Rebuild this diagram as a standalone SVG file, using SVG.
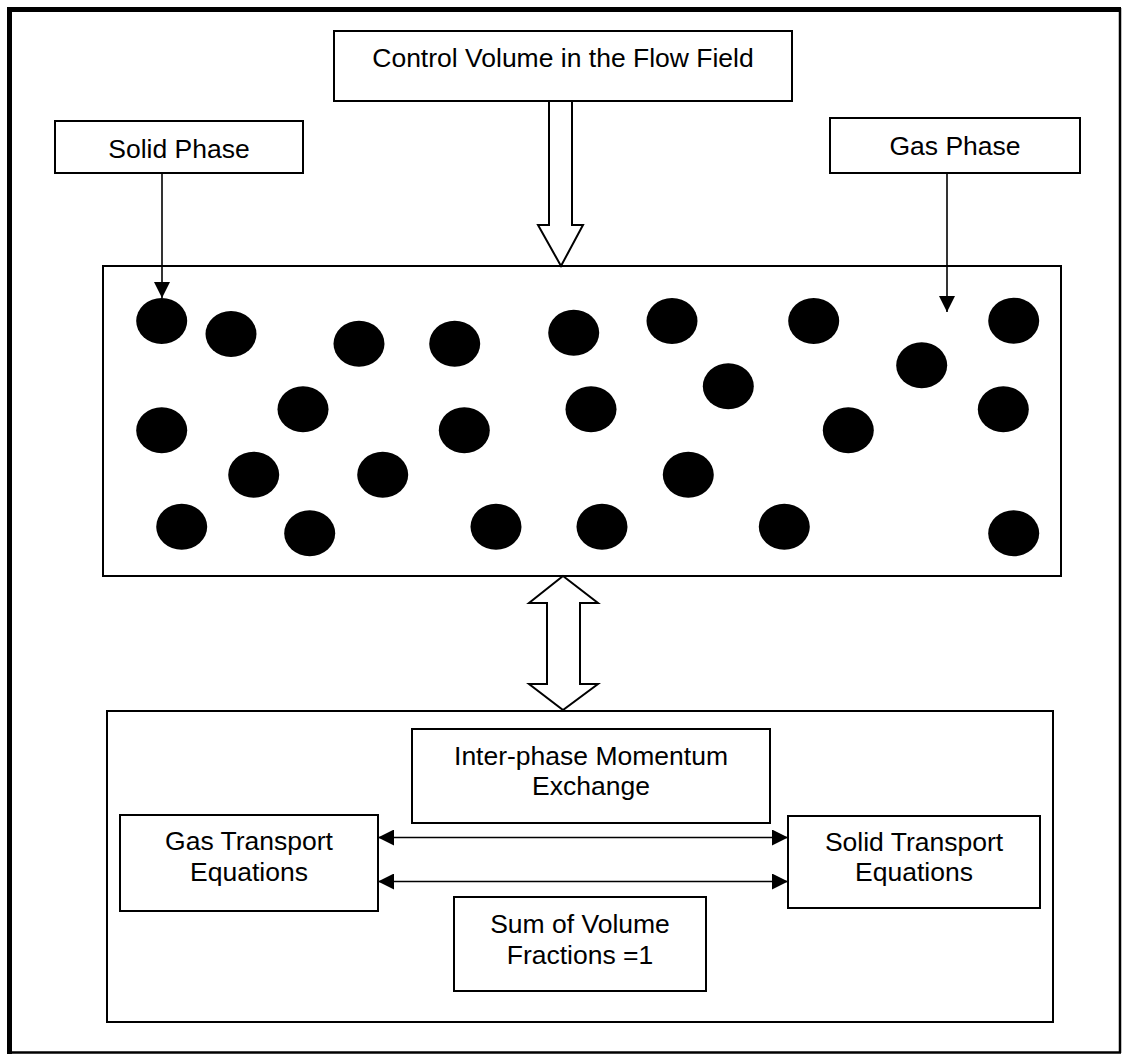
<svg xmlns="http://www.w3.org/2000/svg" width="1135" height="1055" viewBox="0 0 1135 1055">
<style>
.box{fill:#fff;stroke:#000;stroke-width:2}
.lbl{font-family:"Liberation Sans",Arial,sans-serif;font-size:26.5px;fill:#000;text-anchor:middle}
.ln{stroke:#000;stroke-width:1.6;fill:none}
.hollow{fill:#fff;stroke:#000;stroke-width:2;stroke-linejoin:miter}
.p{fill:#000}
</style>
<defs>
<marker id="ah" viewBox="0 0 16 16" refX="16" refY="8" markerWidth="16" markerHeight="16" markerUnits="userSpaceOnUse" orient="auto-start-reverse">
<path d="M0,0 L16,8 L0,16 Z" fill="#000"/>
</marker>
</defs>
<rect x="0" y="0" width="1135" height="1055" fill="#fff"/>
<g id="frame">
<line x1="1120" y1="8" x2="1120" y2="1053" stroke="#000" stroke-width="2.5"/>
<line x1="7" y1="1052.5" x2="1121" y2="1052.5" stroke="#000" stroke-width="2.5"/>
<line x1="9.5" y1="7" x2="9.5" y2="1054" stroke="#000" stroke-width="5"/>
<line x1="7" y1="9.5" x2="1121" y2="9.5" stroke="#000" stroke-width="5"/>
</g>
<g id="connectors">
<polygon class="hollow" points="549,101 572,101 572,225 583,225 561,266 538,225 549,225"/>
<polygon class="hollow" points="563,576 598,603 580,603 580,684 598,684 563,710 529,684 547,684 547,603 529,603"/>
<line class="ln" x1="162" y1="173" x2="162" y2="298" marker-end="url(#ah)"/>
<line class="ln" x1="947" y1="173" x2="947" y2="312" marker-end="url(#ah)"/>
<line class="ln" x1="378" y1="837.5" x2="788" y2="837.5" marker-start="url(#ah)" marker-end="url(#ah)"/>
<line class="ln" x1="378" y1="881.5" x2="788" y2="881.5" marker-start="url(#ah)" marker-end="url(#ah)"/>
</g>
<g id="control-volume">
<rect class="box" x="334" y="31" width="458" height="70"/>
<text class="lbl" x="563" y="67">Control Volume in the Flow Field</text>
</g>
<g id="solid-phase">
<rect class="box" x="55" y="121" width="248" height="52"/>
<text class="lbl" x="179" y="158">Solid Phase</text>
</g>
<g id="gas-phase">
<rect class="box" x="830" y="118" width="250" height="55"/>
<text class="lbl" x="955" y="155">Gas Phase</text>
</g>
<g id="particle-box">
<rect class="box" x="103" y="266" width="958" height="310" fill="none" style="fill:none"/>
<g class="p">
<ellipse cx="161.7" cy="321" rx="25.5" ry="23"/>
<ellipse cx="231" cy="334" rx="25.5" ry="23"/>
<ellipse cx="359" cy="343.7" rx="25.5" ry="23"/>
<ellipse cx="454.7" cy="343.7" rx="25.5" ry="23"/>
<ellipse cx="573.7" cy="332.7" rx="25.5" ry="23"/>
<ellipse cx="672" cy="321" rx="25.5" ry="23"/>
<ellipse cx="813.7" cy="321" rx="25.5" ry="23"/>
<ellipse cx="921.7" cy="365.3" rx="25.5" ry="23"/>
<ellipse cx="1013.7" cy="320.7" rx="25.5" ry="23"/>
<ellipse cx="161.7" cy="430.3" rx="25.5" ry="23"/>
<ellipse cx="303" cy="409.3" rx="25.5" ry="23"/>
<ellipse cx="464.3" cy="430.3" rx="25.5" ry="23"/>
<ellipse cx="591" cy="409.3" rx="25.5" ry="23"/>
<ellipse cx="728.3" cy="386.3" rx="25.5" ry="23"/>
<ellipse cx="848.3" cy="430.3" rx="25.5" ry="23"/>
<ellipse cx="1003.3" cy="409.3" rx="25.5" ry="23"/>
<ellipse cx="253.7" cy="474.7" rx="25.5" ry="23"/>
<ellipse cx="382.7" cy="474.7" rx="25.5" ry="23"/>
<ellipse cx="688.3" cy="474.7" rx="25.5" ry="23"/>
<ellipse cx="181.7" cy="526.7" rx="25.5" ry="23"/>
<ellipse cx="309.7" cy="533.3" rx="25.5" ry="23"/>
<ellipse cx="496" cy="526.7" rx="25.5" ry="23"/>
<ellipse cx="602" cy="526.7" rx="25.5" ry="23"/>
<ellipse cx="784.3" cy="526.7" rx="25.5" ry="23"/>
<ellipse cx="1013.7" cy="533.3" rx="25.5" ry="23"/>
</g>
</g>
<g id="equations-box">
<rect class="box" x="107" y="711" width="946" height="311" style="fill:none"/>
</g>
<g id="inter-phase">
<rect class="box" x="412" y="729" width="358" height="94"/>
<text class="lbl" x="591" y="765">Inter-phase Momentum</text>
<text class="lbl" x="591" y="795">Exchange</text>
</g>
<g id="gas-transport">
<rect class="box" x="120" y="815" width="258" height="96"/>
<text class="lbl" x="249" y="850">Gas Transport</text>
<text class="lbl" x="249" y="881">Equations</text>
</g>
<g id="solid-transport">
<rect class="box" x="788" y="816" width="252" height="92"/>
<text class="lbl" x="914" y="850.5">Solid Transport</text>
<text class="lbl" x="914" y="881">Equations</text>
</g>
<g id="sum-volume">
<rect class="box" x="454" y="897" width="252" height="94"/>
<text class="lbl" x="580" y="932.5">Sum of Volume</text>
<text class="lbl" x="580" y="964">Fractions =1</text>
</g>
</svg>
